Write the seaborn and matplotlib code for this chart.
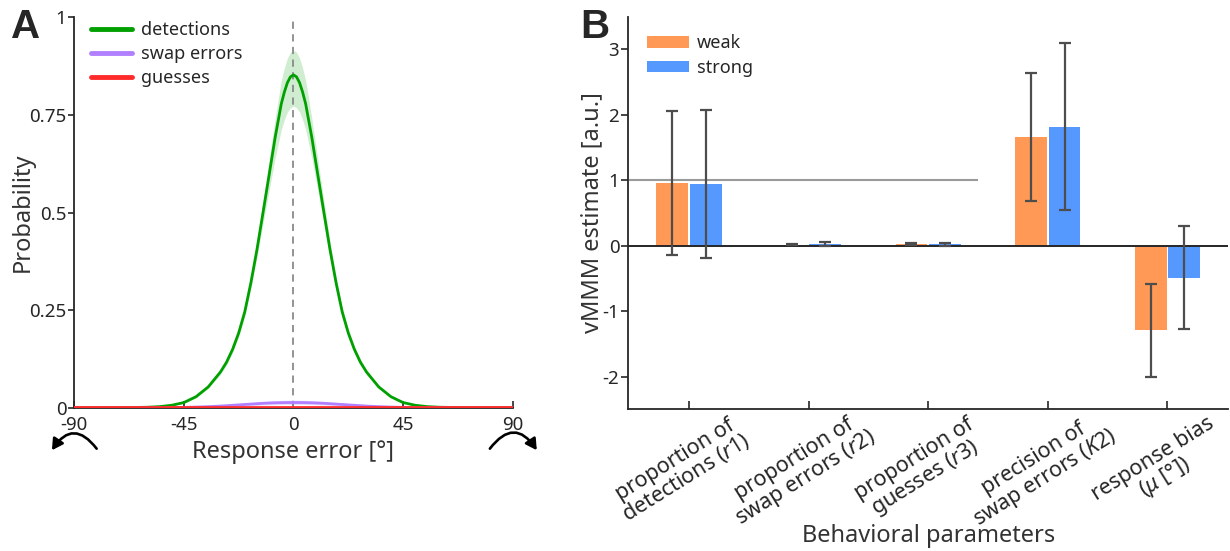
import numpy as np
import pandas as pd
import matplotlib
matplotlib.use("Agg")
import matplotlib.pyplot as plt
from matplotlib.transforms import ScaledTranslation
import seaborn as sns

# ---------------- Panel A: vMMM component distributions ----------------
# Values on the non-negative half of the error axis; the model is symmetric around 0°.
half_deg = [0, 1.25, 2.5, 3.75, 5, 7.5, 10, 12.5, 15, 17.5, 20, 22.5, 25, 27.5, 30,
            35, 40, 45, 50, 55, 60, 70, 80, 90]
detect_half = [0.852, 0.847, 0.832, 0.808, 0.778, 0.693, 0.596, 0.500, 0.405,
               0.320, 0.246, 0.192, 0.150, 0.117, 0.092, 0.054, 0.029, 0.014,
               0.007, 0.0035, 0.002, 0.001, 0.0005, 0.0004]
detect_lo_half = [0.772, 0.768, 0.757, 0.737, 0.712, 0.640, 0.556, 0.471, 0.385,
                  0.305, 0.234, 0.182, 0.142, 0.110, 0.086, 0.050, 0.026, 0.012,
                  0.006, 0.003, 0.0017, 0.0008, 0.0004, 0.0003]
detect_hi_half = [0.915, 0.910, 0.895, 0.870, 0.838, 0.742, 0.636, 0.530, 0.426,
                  0.336, 0.258, 0.202, 0.158, 0.124, 0.098, 0.058, 0.032, 0.016,
                  0.008, 0.004, 0.0023, 0.0012, 0.0006, 0.0005]
swap_half = [0.0140, 0.0140, 0.0140, 0.0139, 0.0137, 0.0133, 0.0127, 0.0120,
             0.0110, 0.0100, 0.0090, 0.0080, 0.0070, 0.0060, 0.0050, 0.0035,
             0.0024, 0.0016, 0.0011, 0.0008, 0.0006, 0.0004, 0.0003, 0.0003]
swap_lo_half = [0.0090, 0.0090, 0.0090, 0.0089, 0.0088, 0.0085, 0.0081, 0.0077,
                0.0070, 0.0064, 0.0058, 0.0051, 0.0045, 0.0038, 0.0032, 0.0022,
                0.0015, 0.0010, 0.0007, 0.0005, 0.0004, 0.0003, 0.0002, 0.0002]
swap_hi_half = [0.0200, 0.0200, 0.0199, 0.0197, 0.0195, 0.0189, 0.0180, 0.0170,
                0.0156, 0.0142, 0.0128, 0.0114, 0.0099, 0.0085, 0.0071, 0.0050,
                0.0034, 0.0023, 0.0016, 0.0011, 0.0008, 0.0006, 0.0004, 0.0004]
guess_level = 0.0035

component_names = ["detections", "swap errors", "guesses"]
component_colors = ["#00A000", "#B080FF", "#FF2A2A"]
a_xticks = [-90, -45, 0, 45, 90]
a_yticks = [0, 0.25, 0.5, 0.75, 1]
a_yticklabels = ["0", "0.25", "0.5", "0.75", "1"]

# ---------------- Panel B: parameter estimates ----------------
parameters = ["proportion of\ndetections ($r$1)",
              "proportion of\nswap errors ($r$2)",
              "proportion of\nguesses ($r$3)",
              "precision of\nswap errors ($K$2)",
              "response bias\n($\\mu$ [°])"]
conditions = ["weak", "strong"]
weak_est = [0.96, 0.015, 0.025, 1.66, -1.29]
weak_err = [1.10, 0.010, 0.015, 0.98, 0.71]
strong_est = [0.94, 0.030, 0.020, 1.82, -0.49]
strong_err = [1.13, 0.027, 0.025, 1.28, 0.79]
cond_colors = ["#FF9955", "#5599FF"]
b_yticks = [-2, -1, 0, 1, 2, 3]


def mirror(v):
    v = np.asarray(v, dtype=float)
    return np.concatenate([v[:0:-1], v])


error_deg = np.concatenate([-np.asarray(half_deg, float)[:0:-1], np.asarray(half_deg, float)])
detect = mirror(detect_half)
detect_lo = mirror(detect_lo_half)
detect_hi = mirror(detect_hi_half)
swap = mirror(swap_half)
swap_lo = mirror(swap_lo_half)
swap_hi = mirror(swap_hi_half)
guess = np.full_like(error_deg, guess_level)

sns.set_theme(style="ticks")
plt.rcParams["font.family"] = ["Noto Sans", "DejaVu Sans"]
plt.rcParams["mathtext.fontset"] = "custom"
plt.rcParams["mathtext.rm"] = "Noto Sans"
plt.rcParams["mathtext.it"] = "Noto Sans:italic"
plt.rcParams["mathtext.bf"] = "Noto Sans:bold"

ink = "#262626"
label_ink = "#333333"
tick_fs = 13.5
cat_fs = 15.5
label_fs = 17
legend_fs = 13

fig = plt.figure(figsize=(12.3, 5.51), dpi=100)

# ---------------- Panel A ----------------
axA = fig.add_axes([0.0604, 0.2595, 0.3564, 0.7096])
curves = pd.DataFrame({
    "error": np.tile(error_deg, 3),
    "p": np.concatenate([detect, swap, guess]),
    "component": np.repeat(component_names, len(error_deg)),
})
axA.fill_between(error_deg, detect_lo, detect_hi, color=component_colors[0],
                 alpha=0.18, lw=0, zorder=1)
axA.fill_between(error_deg, swap_lo, swap_hi, color=component_colors[1],
                 alpha=0.25, lw=0, zorder=1)
sns.lineplot(data=curves, x="error", y="p", hue="component",
             hue_order=component_names, palette=component_colors,
             linewidth=2.0, ax=axA, zorder=3, legend=True)
axA.axvline(0, color="#8a8a8a", lw=1.3, ls=(0, (4, 3)), zorder=2)

axA.set_xlim(-90, 90)
axA.set_ylim(0, 1)
axA.set_xticks(a_xticks)
axA.set_xticklabels([str(t) for t in a_xticks])
axA.set_yticks(a_yticks)
axA.set_yticklabels(a_yticklabels)
axA.tick_params(axis="x", direction="in", length=5, width=1.2, pad=6,
                labelsize=tick_fs, colors=ink)
axA.tick_params(axis="y", direction="out", length=4, width=1.2, pad=1.5,
                labelsize=tick_fs, colors=ink)
for s in ("top", "right"):
    axA.spines[s].set_visible(False)
for s in ("left", "bottom"):
    axA.spines[s].set_color(ink)
    axA.spines[s].set_linewidth(1.3)
axA.set_xlabel("Response error [°]", fontsize=label_fs, color=label_ink)
axA.set_ylabel("Probability", fontsize=label_fs, color=label_ink)
axA.xaxis.set_label_coords(0.5, -0.113)
axA.xaxis.label.set_va("center")
axA.yaxis.set_label_coords(-0.117, 0.5)
axA.yaxis.label.set_va("center")

hA, lA = axA.get_legend_handles_labels()
legA = axA.legend(hA, lA, loc="upper left", bbox_to_anchor=(0.037, 0.990),
                  frameon=False, fontsize=legend_fs, handlelength=2.3,
                  handletextpad=0.5, labelspacing=0.33, borderaxespad=0,
                  borderpad=0)
for line in legA.get_lines():
    line.set_linewidth(3.5)

# wrap-around arrows below the axis ends
arrow_props = dict(arrowstyle="-|>,head_length=0.5,head_width=0.28",
                   color="black", lw=1.9, shrinkA=0, shrinkB=0,
                   mutation_scale=13)
axA.annotate("", xy=(-0.051, -0.108), xytext=(0.051, -0.104),
             xycoords="axes fraction", textcoords="axes fraction",
             annotation_clip=False,
             arrowprops=dict(arrow_props, connectionstyle="arc3,rad=0.7"))
axA.annotate("", xy=(1.055, -0.108), xytext=(0.948, -0.104),
             xycoords="axes fraction", textcoords="axes fraction",
             annotation_clip=False,
             arrowprops=dict(arrow_props, connectionstyle="arc3,rad=-0.7"))

# ---------------- Panel B ----------------
axB = fig.add_axes([0.5108, 0.2572, 0.4876, 0.7125])
est = pd.DataFrame({
    "parameter": parameters * 2,
    "condition": np.repeat(conditions, len(parameters)),
    "value": weak_est + strong_est,
})
sns.barplot(data=est, x="parameter", y="value", hue="condition",
            order=parameters, hue_order=conditions, palette=cond_colors,
            saturation=1, width=0.56, gap=0.05, errorbar=None,
            linewidth=0, ax=axB, zorder=2)

errs = {"weak": weak_err, "strong": strong_err}
vals = {"weak": weak_est, "strong": strong_est}
for container, cond in zip(axB.containers, conditions):
    xs = [p.get_x() + p.get_width() / 2 for p in container]
    axB.errorbar(xs, vals[cond], yerr=errs[cond], fmt="none",
                 ecolor="#4d4d4d", elinewidth=1.6, capsize=4.5,
                 capthick=1.6, zorder=4)

axB.axhline(0, color=ink, lw=1.4, zorder=3)
axB.hlines(1, -0.5, 2.42, color="#9a9a9a", lw=1.5, zorder=1)

axB.set_xlim(-0.507, 4.507)
axB.set_ylim(-2.5, 3.5)
axB.set_yticks(b_yticks)
axB.set_yticklabels([str(t) for t in b_yticks])
axB.tick_params(axis="y", direction="out", length=5, width=1.2, pad=1.5,
                labelsize=tick_fs, colors=ink)
axB.tick_params(axis="x", direction="in", length=6, width=1.2, pad=0,
                labelsize=cat_fs, colors=ink)
for s in ("top", "right"):
    axB.spines[s].set_visible(False)
for s in ("left", "bottom"):
    axB.spines[s].set_color(ink)
    axB.spines[s].set_linewidth(1.3)

shift = ScaledTranslation(-8 / 100, -60 / 100, fig.dpi_scale_trans)
for lbl in axB.get_xticklabels():
    lbl.set_rotation(32)
    lbl.set_rotation_mode("anchor")
    lbl.set_ha("center")
    lbl.set_va("center")
    lbl.set_multialignment("center")
    lbl.set_linespacing(0.95)
    lbl.set_transform(lbl.get_transform() + shift)

axB.set_xlabel("Behavioral parameters", fontsize=label_fs, color=label_ink)
axB.set_ylabel("vMMM estimate [a.u.]", fontsize=label_fs, color=label_ink)
axB.xaxis.set_label_coords(0.5, -0.322)
axB.xaxis.label.set_va("center")
axB.yaxis.set_label_coords(-0.060, 0.5)
axB.yaxis.label.set_va("center")

hB, lB = axB.get_legend_handles_labels()
axB.legend(hB, lB, loc="upper left", bbox_to_anchor=(0.032, 0.955),
           frameon=False, fontsize=legend_fs, handlelength=2.3, handleheight=0.6,
           handletextpad=0.45, labelspacing=0.35, borderaxespad=0,
           borderpad=0)

# panel letters
for x, letter in ((0.009, "A"), (0.472, "B")):
    fig.text(x, 0.985, letter, fontsize=29, fontweight="bold", va="top",
             ha="left", family=["Liberation Sans", "DejaVu Sans"])

fig.savefig("out.png", dpi=100)
